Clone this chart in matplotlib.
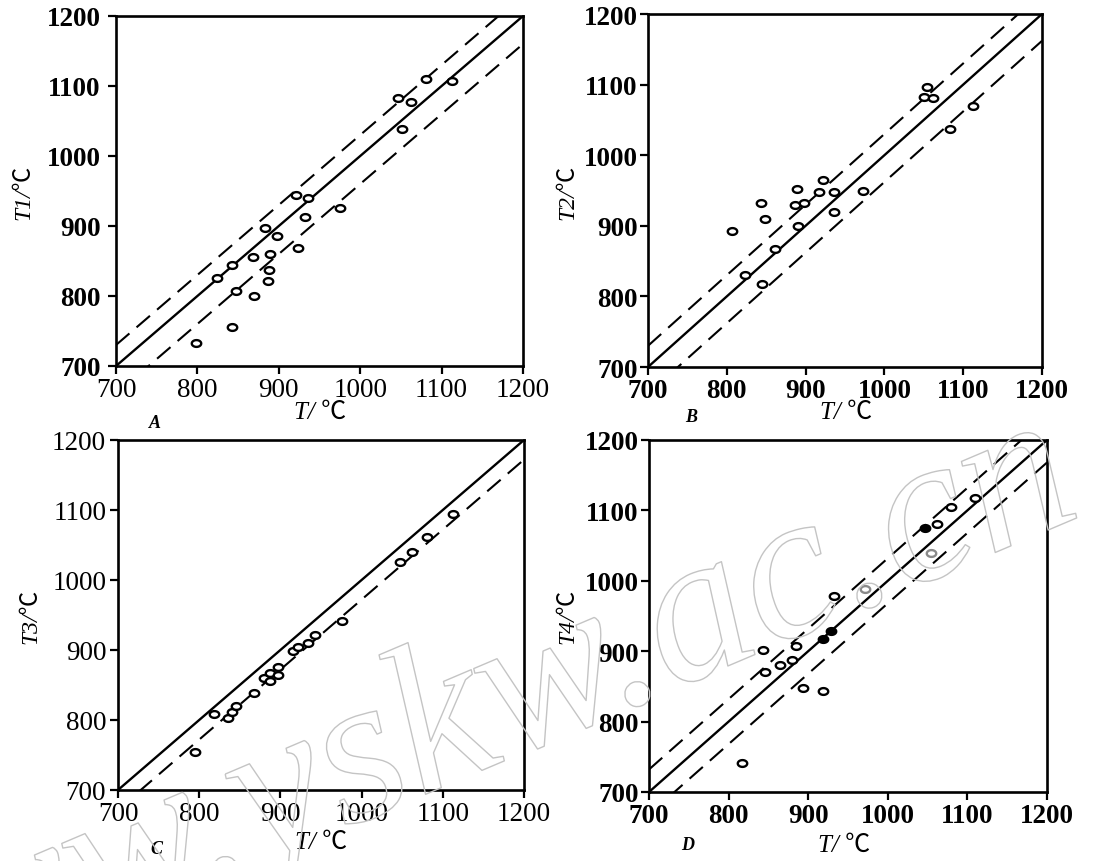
import numpy as np
import matplotlib
matplotlib.use("Agg")
import matplotlib.pyplot as plt
from matplotlib.path import Path
import matplotlib.patheffects as pe

# ---- data: measured T vs. calculated T1..T4 (°C) ----
a_x = [798, 843, 848, 869, 824, 843, 868, 887, 888, 889, 883, 898, 924, 932, 921, 936, 975, 1051, 1047, 1062, 1081, 1113]
a_y = [733, 756, 807, 800, 826, 844, 856, 821, 837, 860, 897, 886, 868, 913, 945, 940, 926, 1039, 1083, 1077, 1110, 1107]

b_x = [807, 843, 848, 823, 845, 861, 889, 886, 898, 890, 917, 922, 936, 936, 973, 1054, 1050, 1062, 1083, 1113]
b_y = [892, 932, 910, 830, 817, 867, 952, 929, 932, 900, 948, 965, 948, 920, 949, 1096, 1083, 1081, 1037, 1069]

c_x = [795, 818, 835, 840, 845, 867, 880, 887, 887, 897, 897, 916, 922, 934, 942, 976, 1047, 1062, 1080, 1113]
c_y = [755, 808, 803, 812, 820, 839, 860, 867, 855, 876, 864, 898, 904, 910, 921, 941, 1026, 1040, 1062, 1094]

d_x = [817, 843, 846, 865, 880, 885, 894, 918, 919, 929, 932, 971, 1047, 1062, 1054, 1080, 1110]
d_y = [741, 902, 870, 880, 887, 907, 848, 843, 917, 929, 978, 988, 1075, 1080, 1040, 1105, 1117]
d_style = ["o", "o", "o", "o", "o", "o", "o", "o", "f", "f", "o", "g", "f", "o", "g", "o", "o"]

# offsets (°C) of the dashed deviation lines around the 1:1 line
a_bands = [30, -40]
b_bands = [30, -38]
c_bands = [-28]
d_bands = [32, -32]

y_labels = ["T1/", "T2/", "T3/", "T4/"]
panel_tags = ["A", "B", "C", "D"]
ticks = [700, 800, 900, 1000, 1100, 1200]
lims = (700, 1200)

W, H = 1096, 862
fig = plt.figure(figsize=(W / 100, H / 100), dpi=100)
fam = ["Liberation Serif", "Noto Sans CJK SC", "DejaVu Sans"]


def fx(px):
    return px / W


def fy(py):
    return 1 - py / H


# slightly flattened open-circle marker
t = np.linspace(0, 2 * np.pi, 40)
ell = Path(np.column_stack([np.cos(t), 0.72 * np.sin(t)]), closed=True)

# axes boxes in pixels: left, top, right, bottom
boxes = [(116, 17, 523, 367), (648, 15, 1042, 368), (118, 441, 524, 791), (649, 441, 1047, 793)]
series = [(a_x, a_y, a_bands), (b_x, b_y, b_bands), (c_x, c_y, c_bands), (d_x, d_y, d_bands)]
xtick_bold = [False, True, False, True]
ytick_bold = [True, True, False, True]
ytick_pad = [5, 1.5, 2.5, 1.5]
ylab_pos = [(24, 192), (568, 192), (31, 616), (568, 616)]
xlab_pos = [(320, 413), (846, 413), (321, 843), (844, 846)]
tag_pos = [(155, 424), (691, 417), (156, 850), (688, 846)]

MS, MEW = 6.8, 1.7

for i, ((l, tp, r, b), (xs, ys, bands)) in enumerate(zip(boxes, series)):
    ax = fig.add_axes([fx(l), fy(b), fx(r - l), (b - tp) / H])
    ax.set_xlim(*lims)
    ax.set_ylim(*lims)
    ax.set_xticks(ticks)
    ax.set_yticks(ticks)
    for s in ax.spines.values():
        s.set_linewidth(1.9)
        s.set_color("black")
    ax.tick_params(direction="out", length=6, width=1.6)
    ax.tick_params(axis="x", pad=2)
    ax.tick_params(axis="y", pad=ytick_pad[i])
    for lab in ax.get_xticklabels():
        lab.set_fontfamily(fam)
        lab.set_fontsize(19.5)
        lab.set_fontweight("bold" if xtick_bold[i] else "normal")
    for lab in ax.get_yticklabels():
        lab.set_fontfamily(fam)
        lab.set_fontsize(19.5)
        lab.set_fontweight("bold" if ytick_bold[i] else "normal")

    line = np.array(lims, dtype=float)
    ax.plot(line, line, color="black", lw=1.7, zorder=2)
    for off in bands:
        ax.plot(line, line + off, color="black", lw=1.5, dashes=(8.5, 4.5), zorder=2)

    if i == 3:
        for x, y, st in zip(xs, ys, d_style):
            ec = "#8a8a8a" if st == "g" else "black"
            fc = "black" if st == "f" else "white"
            ax.plot([x], [y], linestyle="none", marker=ell, ms=MS, mew=MEW,
                    mec=ec, mfc=fc, zorder=3)
    else:
        ax.plot(xs, ys, linestyle="none", marker=ell, ms=MS, mew=MEW,
                mec="black", mfc="white", zorder=3)

    fig.text(fx(ylab_pos[i][0]), fy(ylab_pos[i][1]), y_labels[i] + "℃", rotation=90,
             ha="center", va="center", fontsize=17, fontstyle="italic", family=fam)
    fig.text(fx(xlab_pos[i][0]), fy(xlab_pos[i][1]), "T/ ℃",
             ha="center", va="center", fontsize=18, fontstyle="italic", family=fam)
    fig.text(fx(tag_pos[i][0]), fy(tag_pos[i][1]), panel_tags[i],
             ha="center", va="center", fontsize=13, fontstyle="italic",
             fontweight="bold", family=fam)

# site watermark in outlined lettering
fig.text(fx(-165), fy(1046), "www.yskw.ac.cn", rotation=23, rotation_mode="anchor",
         ha="left", va="baseline", fontsize=152, fontstyle="italic",
         family=["Liberation Serif"], color="none", zorder=10,
         path_effects=[pe.withStroke(linewidth=1.0, foreground="#c4c4c4")])

fig.savefig("out.png", dpi=100)
